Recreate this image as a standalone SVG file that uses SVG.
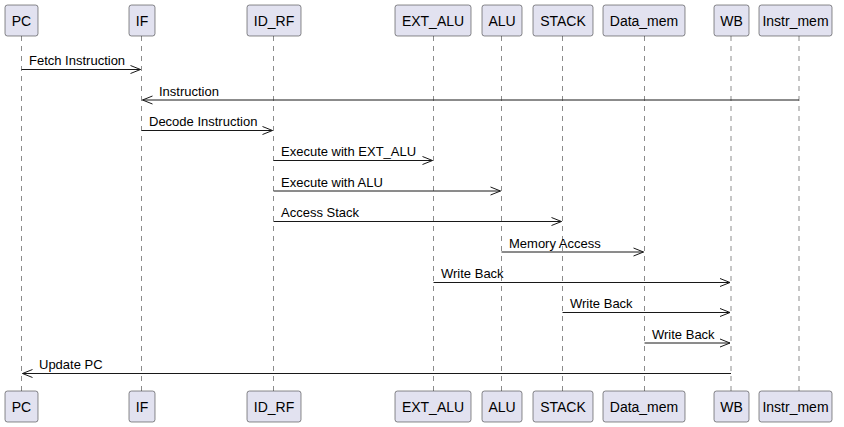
<svg xmlns="http://www.w3.org/2000/svg" width="844" height="427" viewBox="0 0 844 427">
<style>
.box{fill:#E2E2F0;stroke:#181818;stroke-width:0.5}
.pt{font-family:"Liberation Sans",Arial,sans-serif;font-size:14px;fill:#000;text-anchor:middle}
.life{stroke:#181818;stroke-width:0.5;stroke-dasharray:5,5;fill:none}
.msg{stroke:#181818;stroke-width:1;fill:none}
.ml{font-family:"Liberation Sans",Arial,sans-serif;font-size:13px;fill:#000}
</style>
<rect width="844" height="427" fill="#fff"/>
<g id="lifelines">
<line class="life" x1="21.5" y1="36" x2="21.5" y2="391"/>
<line class="life" x1="141.5" y1="36" x2="141.5" y2="391"/>
<line class="life" x1="273.5" y1="36" x2="273.5" y2="391"/>
<line class="life" x1="433.5" y1="36" x2="433.5" y2="391"/>
<line class="life" x1="501.5" y1="36" x2="501.5" y2="391"/>
<line class="life" x1="562.5" y1="36" x2="562.5" y2="391"/>
<line class="life" x1="644.5" y1="36" x2="644.5" y2="391"/>
<line class="life" x1="731" y1="36" x2="731" y2="391"/>
<line class="life" x1="799" y1="36" x2="799" y2="391"/>
</g>
<g id="PC"><rect class="box" x="5" y="5" width="33" height="31" rx="2.5"/><text class="pt" x="21.5" y="25.5">PC</text><rect class="box" x="5" y="391" width="33" height="31" rx="2.5"/><text class="pt" x="21.5" y="411.5">PC</text></g>
<g id="IF"><rect class="box" x="129" y="5" width="26" height="31" rx="2.5"/><text class="pt" x="142" y="25.5">IF</text><rect class="box" x="129" y="391" width="26" height="31" rx="2.5"/><text class="pt" x="142" y="411.5">IF</text></g>
<g id="ID_RF"><rect class="box" x="247" y="5" width="54" height="31" rx="2.5"/><text class="pt" x="274" y="25.5">ID_RF</text><rect class="box" x="247" y="391" width="54" height="31" rx="2.5"/><text class="pt" x="274" y="411.5">ID_RF</text></g>
<g id="EXT_ALU"><rect class="box" x="395" y="5" width="76" height="31" rx="2.5"/><text class="pt" x="433" y="25.5">EXT_ALU</text><rect class="box" x="395" y="391" width="76" height="31" rx="2.5"/><text class="pt" x="433" y="411.5">EXT_ALU</text></g>
<g id="ALU"><rect class="box" x="482" y="5" width="40" height="31" rx="2.5"/><text class="pt" x="502" y="25.5">ALU</text><rect class="box" x="482" y="391" width="40" height="31" rx="2.5"/><text class="pt" x="502" y="411.5">ALU</text></g>
<g id="STACK"><rect class="box" x="533" y="5" width="60" height="31" rx="2.5"/><text class="pt" x="563" y="25.5">STACK</text><rect class="box" x="533" y="391" width="60" height="31" rx="2.5"/><text class="pt" x="563" y="411.5">STACK</text></g>
<g id="Data_mem"><rect class="box" x="603" y="5" width="82" height="31" rx="2.5"/><text class="pt" x="644" y="25.5">Data_mem</text><rect class="box" x="603" y="391" width="82" height="31" rx="2.5"/><text class="pt" x="644" y="411.5">Data_mem</text></g>
<g id="WB"><rect class="box" x="714" y="5" width="35" height="31" rx="2.5"/><text class="pt" x="731.5" y="25.5">WB</text><rect class="box" x="714" y="391" width="35" height="31" rx="2.5"/><text class="pt" x="731.5" y="411.5">WB</text></g>
<g id="Instr_mem"><rect class="box" x="759" y="5" width="73" height="31" rx="2.5"/><text class="pt" x="795.5" y="25.5">Instr_mem</text><rect class="box" x="759" y="391" width="73" height="31" rx="2.5"/><text class="pt" x="795.5" y="411.5">Instr_mem</text></g>
<g id="connectors">
<path class="msg" d="M21.5,69.5 H140.5 M130.5,65.5 L140.5,69.5 L130.5,73.5"/>
<text class="ml" x="29" y="65">Fetch Instruction</text>
<path class="msg" d="M799,100 H142.5 M152.5,96 L142.5,100 L152.5,104"/>
<text class="ml" x="159" y="95.5">Instruction</text>
<path class="msg" d="M141.5,130.5 H272.5 M262.5,126.5 L272.5,130.5 L262.5,134.5"/>
<text class="ml" x="149" y="126">Decode Instruction</text>
<path class="msg" d="M273.5,160.5 H432.5 M422.5,156.5 L432.5,160.5 L422.5,164.5"/>
<text class="ml" x="281" y="156">Execute with EXT_ALU</text>
<path class="msg" d="M273.5,191 H500.5 M490.5,187 L500.5,191 L490.5,195"/>
<text class="ml" x="281" y="186.5">Execute with ALU</text>
<path class="msg" d="M273.5,221.5 H561.5 M551.5,217.5 L561.5,221.5 L551.5,225.5"/>
<text class="ml" x="281" y="217">Access Stack</text>
<path class="msg" d="M501.5,252 H643.5 M633.5,248 L643.5,252 L633.5,256"/>
<text class="ml" x="509" y="247.5">Memory Access</text>
<path class="msg" d="M433.5,282.5 H730 M720,278.5 L730,282.5 L720,286.5"/>
<text class="ml" x="441" y="278">Write Back</text>
<path class="msg" d="M562.5,312.5 H730 M720,308.5 L730,312.5 L720,316.5"/>
<text class="ml" x="570" y="308">Write Back</text>
<path class="msg" d="M644.5,343 H730 M720,339 L730,343 L720,347"/>
<text class="ml" x="652" y="338.5">Write Back</text>
<path class="msg" d="M731,373.5 H22.5 M32.5,369.5 L22.5,373.5 L32.5,377.5"/>
<text class="ml" x="39" y="369">Update PC</text>
</g>
</svg>
